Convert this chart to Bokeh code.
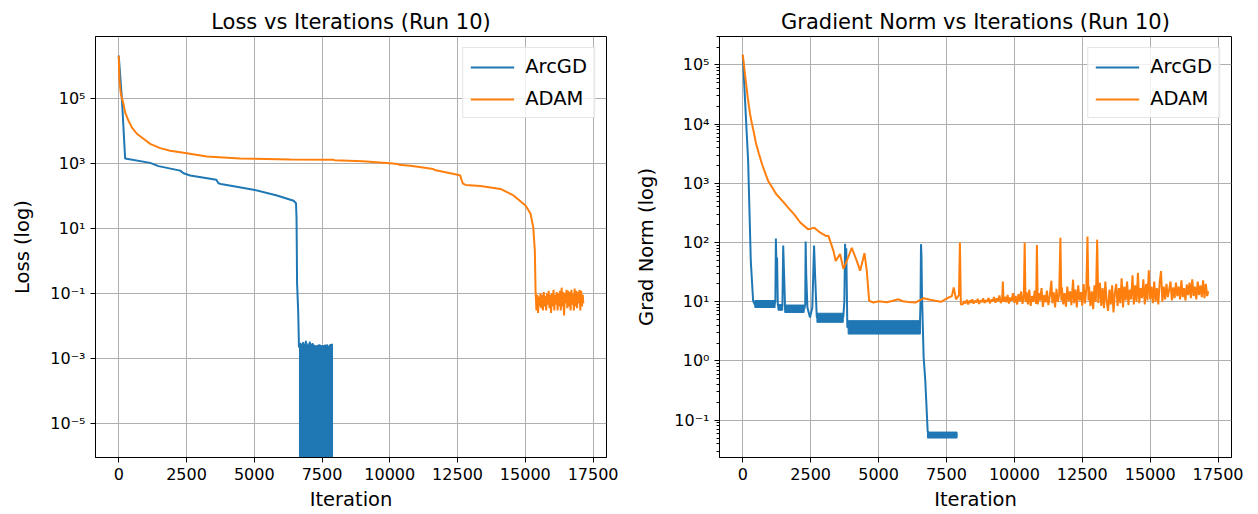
from bokeh.plotting import figure
from bokeh.layouts import row
from bokeh.models import Range1d, FixedTicker, CustomJSTickFormatter, BasicTickFormatter
from bokeh.embed import file_html
from bokeh.resources import INLINE

BLUE = "#1f77b4"
ORANGE = "#ff7f0e"
FONT = "DejaVu Sans"

# ---------------- data: loss ----------------
x_ticks = [0, 2500, 5000, 7500, 10000, 12500, 15000, 17500]

arcgd_loss_iter = [0, 114, 236, 1160, 1466, 2268, 2390, 2637, 3600, 3680, 3770, 4975, 5838,
                   6452, 6540, 6560, 6580, 6620, 6650]
arcgd_loss = [2.0e6, 1.06e5, 1.4e3, 1.02e3, 8.1e2, 5.9e2, 4.9e2, 4.17e2, 3.1e2, 2.4e2, 2.3e2,
              1.53e2, 1.01e2, 70, 59, 20, 0.2, 0.03, 2.2e-3]

# oscillating block of ArcGD loss (top envelope; bottom falls below the axis)
arcgd_block_iter = [6650, 6700, 6750, 6800, 6850, 6900, 6950, 7000, 7050, 7100, 7150, 7200,
                    7300, 7400, 7500, 7600, 7700, 7745, 7790, 7850, 7905]
arcgd_block_top = [2.2e-3, 3.0e-3, 2.4e-3, 3.2e-3, 2.2e-3, 3.5e-3, 2.6e-3, 2.5e-3, 3.3e-3,
                   2.4e-3, 2.9e-3, 2.5e-3, 2.4e-3, 2.6e-3, 2.4e-3, 2.5e-3, 2.6e-3, 2.0e-3,
                   2.6e-3, 2.7e-3, 2.7e-3]
arcgd_block_floor = 1e-9

adam_loss_iter = [0, 26, 77, 175, 236, 360, 483, 670, 913, 1160, 1530, 1900, 2515, 3250, 4480,
                  6330, 7930, 7960, 9000,
                  9998, 10300, 10340, 10767, 11600, 11660, 12542, 12600, 12640, 12700, 12800,
                  13346, 14085, 14577, 15008, 15193, 15293, 15352, 15378,
                  15410, 15440, 15470, 15500, 15530, 15560, 15590, 15620, 15650, 15680,
                  15710, 15740, 15770, 15800, 15830, 15860, 15890, 15920, 15950, 15980,
                  16010, 16040, 16070, 16100, 16130, 16160, 16190, 16220, 16250, 16280,
                  16310, 16340, 16370, 16400, 16430, 16460, 16490, 16520, 16550, 16580,
                  16610, 16640, 16670, 16700, 16730, 16760, 16790, 16820, 16850, 16880,
                  16910, 16940, 16970, 17000, 17030, 17060, 17090, 17120, 17140]
adam_loss = [2.0e6, 3.5e5, 1.35e5, 6.6e4, 3.6e4, 2.0e4, 1.26e4, 8.0e3, 5.6e3, 3.9e3, 2.9e3,
             2.4e3, 2.0e3, 1.6e3, 1.38e3, 1.3e3,
             1.28e3, 1.22e3, 1.15e3, 1.0e3, 9.4e2, 8.9e2, 8.3e2, 6.6e2, 6.2e2, 4.35e2, 4.2e2,
             3.2e2, 2.35e2, 2.15e2, 2.0e2, 1.62e2, 1.0e2, 50, 28, 10.7, 2.0, 0.12,
             0.03, 0.09, 0.025, 0.08, 0.04, 0.10, 0.035, 0.09, 0.03, 0.11,
             0.04, 0.085, 0.03, 0.10, 0.045, 0.12, 0.035, 0.09, 0.025, 0.10,
             0.04, 0.13, 0.03, 0.09, 0.045, 0.11, 0.03, 0.10, 0.04, 0.12,
             0.03, 0.15, 0.04, 0.11, 0.021, 0.10, 0.05, 0.13, 0.035, 0.12,
             0.04, 0.11, 0.03, 0.13, 0.045, 0.10, 0.03, 0.14, 0.04, 0.12,
             0.035, 0.11, 0.05, 0.13, 0.03, 0.12, 0.04, 0.09, 0.05]

# ---------------- data: gradient norm ----------------
arcgd_grad_iter = [0, 197, 295, 381, 443, 1150, 1200, 1219, 1240, 1262, 1290, 1330, 1380,
                   1460, 1489, 1520, 1560, 2260, 2300, 2315, 2335, 2380, 2475, 2560, 2625,
                   2660, 2725, 3700, 3740, 3767, 3790, 3810, 3850, 6520, 6545, 6562, 6580,
                   6600, 6660, 6721, 6807, 6850, 7900]
arcgd_grad = [1.45e5, 2.4e3, 49, 10.4, 9.0, 9.0, 10, 117, 40, 56, 9, 7.5, 8.5,
              8.5, 89, 30, 7.5, 7.5, 9, 104, 30, 8, 5.4, 8, 89,
              30, 5.5, 5.5, 10, 95, 40, 80, 3.7, 3.7, 10, 94, 60,
              12, 1.15, 0.46, 0.066, 0.056, 0.056]

# oscillation plateaus of ArcGD gradient norm
plateau_start = [443, 1300, 1545, 2730, 3880, 6800]
plateau_end = [1190, 1470, 2260, 3700, 6540, 7890]
plateau_low = [8.0, 7.2, 6.6, 4.5, 2.85, 0.050]
plateau_high = [10.5, 9.0, 8.8, 6.4, 4.8, 0.063]

adam_grad_iter = [0, 89, 192, 266, 340, 414, 488, 592, 710, 814, 932, 1080, 1228, 1450, 1671,
                  1893, 2115, 2411, 2633, 2855, 3076,
                  3151, 3336, 3422, 3582, 3705, 3828, 4014, 4198, 4321, 4481, 4567, 4653,
                  4813, 5000, 5300, 5500, 5736, 5900, 6100, 6352, 6500, 6660, 6900, 7091,
                  7300, 7450, 7583, 7700, 7768, 7850, 7960, 7995, 8030,
                  8100, 8150, 8200, 8250, 8300, 8350, 8400, 8450, 8500, 8550, 8600, 8650,
                  8700, 8750, 8800, 8850, 8900, 8950, 9000, 9050, 9100, 9150, 9200,
                  9250, 9300, 9350, 9400, 9450, 9500, 9550, 9577, 9600, 9650, 9700, 9750,
                  9800, 9850, 9900, 9950, 10000, 10050, 10100, 10150, 10200, 10250, 10300,
                  10350, 10380, 10410,
                  10450, 10500, 10550, 10600, 10650, 10700, 10750, 10800, 10830, 10860,
                  10900, 10950, 11000, 11050, 11100, 11150, 11200, 11250, 11300, 11362,
                  11400, 11450, 11500, 11550, 11600, 11650, 11695, 11730, 11750, 11800,
                  11850, 11900, 11950, 12000, 12050, 12100, 12162, 12200, 12250, 12300,
                  12350, 12400, 12450, 12500, 12550, 12600, 12650, 12692, 12730, 12750,
                  12800, 12850, 12900, 12950,
                  13000, 13049, 13090, 13150, 13200, 13250, 13300, 13350, 13400, 13450,
                  13500, 13550, 13600, 13650, 13700, 13750, 13800, 13850, 13900, 13950,
                  14000, 14050, 14100, 14150, 14200, 14250, 14300, 14350, 14400, 14450,
                  14500, 14550, 14600, 14650, 14700, 14750, 14800, 14850, 14900, 14950,
                  15000, 15050, 15100, 15150, 15200, 15250, 15300, 15350, 15400, 15450,
                  15500, 15550, 15600, 15650, 15700, 15750, 15800, 15850, 15900, 15950,
                  16000, 16050, 16100, 16150, 16200, 16250, 16300, 16350, 16400, 16450,
                  16500, 16550, 16600, 16650, 16700, 16750, 16800, 16850, 16900, 16950,
                  17000, 17050, 17100, 17140]
adam_grad = [1.5e5, 6.5e4, 2.6e4, 1.5e4, 1.0e4, 7.0e3, 4.7e3, 3.2e3, 2.1e3, 1.55e3, 1.1e3,
             8.6e2, 6.6e2, 5.1e2, 3.9e2, 3.0e2, 2.18e2, 1.67e2, 1.78e2, 1.47e2, 1.29e2,
             1.31e2, 73, 49, 64, 36, 49, 81, 49, 33.5, 66, 33, 10.4,
             9.7, 10.2, 9.8, 10.3, 11, 10.2, 9.9, 9.7, 10.5, 11.5, 10.8, 10.4,
             10.0, 11, 11.8, 12.5, 17.5, 11, 13, 100, 9,
             9.1, 10.2, 9.4, 10.8, 9.0, 10.5, 9.6, 11.0, 9.3, 10.4, 9.8, 11.2,
             9.2, 10.6, 9.9, 11.4, 9.5, 10.7, 10.0, 11.6, 9.4, 10.9, 10.1,
             12.0, 9.6, 11.5, 10.2, 12.8, 9.5, 11.0, 22, 10.0, 12.2, 9.8, 13.0,
             9.3, 11.8, 10.4, 14.0, 9.6, 12.5, 9.0, 13.5, 10.2, 15.0, 9.2,
             12.8, 100, 10,
             14.5, 9.0, 16.0, 8.5, 12.5, 10.0, 15.5, 9.2, 91, 9.0,
             14.0, 10.5, 17.0, 8.2, 13.0, 9.8, 15.5, 8.8, 12.0, 22.7,
             9.5, 14.5, 8.0, 16.5, 10.0, 13.5, 120, 10.5, 17.5, 9.0,
             14.0, 8.3, 18.0, 10.2, 15.0, 8.8, 23.6, 9.5, 16.0, 8.0,
             19.0, 10.5, 14.5, 8.6, 20.0, 9.4, 16.5, 127, 10.5, 18.0,
             8.5, 15.0, 7.5, 19.0,
             10.0, 112, 9.5, 21.0, 8.5, 17.0, 7.8, 22.0, 10.0, 7.0,
             16.0, 9.0, 19.0, 6.6, 14.0, 20.0, 8.5, 17.0, 9.5, 25.0,
             8.0, 18.0, 10.5, 22.0, 8.8, 16.0, 11.0, 28.0, 9.0, 19.0,
             10.0, 31.0, 9.5, 17.0, 11.5, 24.0, 9.0, 20.0, 10.5, 34.0,
             11.0, 18.0, 9.5, 22.0, 10.0, 17.0, 9.0, 21.0, 33.0, 10.0,
             18.0, 11.0, 20.0, 12.0, 16.0, 22.0, 10.5, 17.5, 11.5, 21.0,
             12.5, 18.0, 11.0, 23.0, 12.0, 17.0, 10.5, 19.5, 13.0, 21.0,
             11.5, 24.0, 12.5, 18.0, 11.0, 22.0, 13.0, 19.0, 12.0, 23.0,
             11.5, 20.0, 12.5, 15.0]

loss_ticks = [1e-5, 1e-3, 1e-1, 1e1, 1e3, 1e5]
grad_ticks = [1e-1, 1e0, 1e1, 1e2, 1e3, 1e4, 1e5]
grad_minor = [k * 10.0 ** e for e in range(-2, 6) for k in range(2, 10)]

SUP_JS = """
const e = Math.round(Math.log10(tick));
const sup = {'-':'\u207b','0':'\u2070','1':'\u00b9','2':'\u00b2','3':'\u00b3','4':'\u2074',
             '5':'\u2075','6':'\u2076','7':'\u2077','8':'\u2078','9':'\u2079'};
return '10' + String(e).split('').map(c => sup[c]).join('');
"""


def make_fig(title, ylabel, y_lo, y_hi, ticks, minor, bl, br):
    p = figure(width=629, height=514, y_axis_type="log",
               x_range=Range1d(-857, 17995), y_range=Range1d(y_lo, y_hi),
               output_backend="svg", toolbar_location=None,
               min_border_left=bl, min_border_right=br,
               min_border_top=36, min_border_bottom=57)
    p.title.text = title
    p.title.align = "center"
    p.title.text_font = FONT
    p.title.text_font_size = "21px"
    p.title.text_font_style = "normal"
    p.title.text_color = "black"
    p.title.standoff = 6

    yt = FixedTicker(ticks=ticks, minor_ticks=minor)
    xt = FixedTicker(ticks=x_ticks, minor_ticks=[])
    p.yaxis.ticker = yt
    p.ygrid.ticker = yt
    p.xaxis.ticker = xt
    p.xgrid.ticker = xt
    p.yaxis.formatter = CustomJSTickFormatter(code=SUP_JS)
    p.xaxis.formatter = BasicTickFormatter(use_scientific=False)

    p.xaxis.axis_label = "Iteration"
    p.yaxis.axis_label = ylabel
    for ax in (p.xaxis[0], p.yaxis[0]):
        ax.axis_label_text_font = FONT
        ax.axis_label_text_font_size = "19.5px"
        ax.axis_label_text_font_style = "normal"
        ax.axis_label_text_color = "black"
        ax.major_label_text_font = FONT
        ax.major_label_text_font_size = "16px"
        ax.major_label_text_color = "black"
        ax.axis_line_color = "black"
        ax.major_tick_line_color = "black"
        ax.minor_tick_line_color = "black"
        ax.major_tick_in = 0
        ax.major_tick_out = 5
        ax.minor_tick_in = 0
        ax.minor_tick_out = 3
        ax.major_label_standoff = 5
    p.xaxis.axis_label_standoff = 5
    p.yaxis.axis_label_standoff = 13

    for g in (p.xgrid[0], p.ygrid[0]):
        g.grid_line_color = "#b0b0b0"
        g.grid_line_width = 1
    p.outline_line_color = "black"
    p.outline_line_width = 1
    p.outline_line_alpha = 1
    p.background_fill_color = "white"
    p.border_fill_color = "white"
    return p


def style_legend(p):
    leg = p.legend[0]
    leg.location = "top_right"
    leg.label_text_font = FONT
    leg.label_text_font_size = "19.5px"
    leg.label_text_color = "black"
    leg.glyph_width = 44
    leg.glyph_height = 20
    leg.label_height = 20
    leg.spacing = 9
    leg.padding = 7
    leg.margin = 11
    leg.label_standoff = 11
    leg.border_line_color = "#cccccc"
    leg.border_line_width = 1
    leg.background_fill_alpha = 0.8


# ---------- left: loss ----------
p1 = make_fig("Loss vs Iterations (Run 10)", "Loss (log)", 10 ** -6.04, 10 ** 6.89,
              loss_ticks, [], 95, 23)
p1.varea(x=arcgd_block_iter, y1=arcgd_block_floor, y2=arcgd_block_top, fill_color=BLUE)
p1.line(arcgd_loss_iter, arcgd_loss, line_color=BLUE, line_width=2, legend_label="ArcGD")
p1.line(arcgd_block_iter, arcgd_block_top, line_color=BLUE, line_width=1.5)
p1.line(adam_loss_iter, adam_loss, line_color=ORANGE, line_width=2, legend_label="ADAM")
style_legend(p1)

# ---------- right: gradient norm ----------
p2 = make_fig("Gradient Norm vs Iterations (Run 10)", "Grad Norm (log)", 10 ** -1.63, 10 ** 5.48,
              grad_ticks, grad_minor, 90, 27)
p2.quad(left=plateau_start, right=plateau_end, bottom=plateau_low, top=plateau_high,
        fill_color=BLUE, line_color=BLUE, line_width=1)
p2.line(arcgd_grad_iter, arcgd_grad, line_color=BLUE, line_width=2, legend_label="ArcGD")
p2.line(adam_grad_iter, adam_grad, line_color=ORANGE, line_width=2, legend_label="ADAM")
style_legend(p2)

layout = row(p1, p2)
open("out.html", "w").write(file_html(layout, INLINE))
